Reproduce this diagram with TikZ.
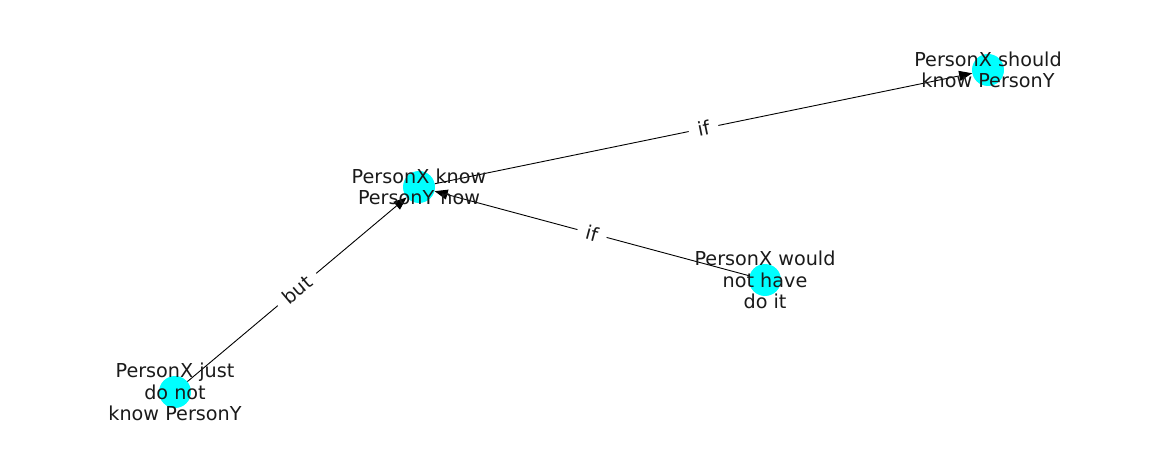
\documentclass[tikz,border=0pt]{standalone}
\usepackage{fontspec}
\setmainfont{DejaVu Sans}
\usetikzlibrary{arrows.meta}
\definecolor{txt}{HTML}{1A1A1A}
\definecolor{nodecyan}{RGB}{0,255,255}
\begin{document}
\begin{tikzpicture}[x=1pt,y=-1pt,
  dot/.style={circle,fill=nodecyan,draw=none,minimum size=32pt,inner sep=0pt},
  lbl/.style={text=txt,align=center,font=\fontsize{19.2}{21.2}\selectfont,inner sep=0pt},
  rel/.style={draw=black,line width=0.9pt,-{Triangle[length=13pt,width=10pt]}},
  elbl/.style={fill=white,text=txt,font=\fontsize{19.2}{21}\selectfont,inner xsep=9pt,inner ysep=6pt,rounded corners=4pt}]
  \useasboundingbox (0,0) rectangle (1162,462);
  % nodes
  \node[dot] (a) at (988,70) {};
  \node[dot] (b) at (419,187) {};
  \node[dot] (c) at (765,280) {};
  \node[dot] (d) at (175,392) {};
  % connectors
  \draw[rel] (b) -- node[midway,sloped,elbl] {if} (a);
  \draw[rel] (c) -- node[midway,sloped,elbl] {if} (b);
  \draw[rel] (d) -- node[midway,sloped,elbl] {but} (b);
  % node texts
  \node[lbl] (ta) at (a) {PersonX should\\know PersonY};
  \node[lbl] (tb) at (b) {PersonX know\\PersonY now};
  \node[lbl] (tc) at (c) {PersonX would\\not have\\do it};
  \node[lbl] (td) at (d) {PersonX just\\do not\\know PersonY};
\end{tikzpicture}
\end{document}
